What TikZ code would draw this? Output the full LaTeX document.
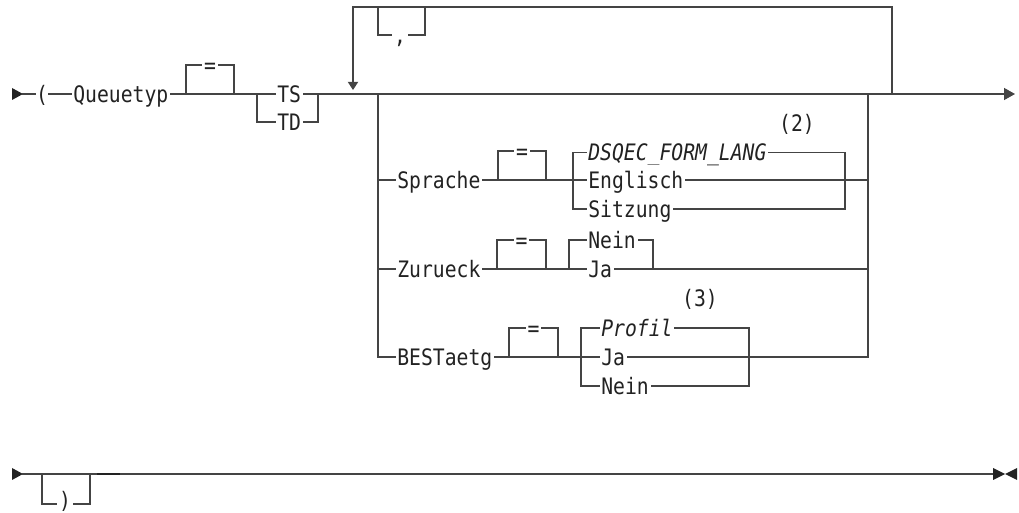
\documentclass[tikz,border=0pt]{standalone}
\usepackage{fontspec}
\newfontfamily\rrfont[FakeStretch=0.87]{DejaVu Sans Mono}
\usetikzlibrary{arrows.meta, positioning}
\definecolor{cline}{HTML}{444444}
\definecolor{ctext}{HTML}{222222}
\tikzset{
  every picture/.style={line width=0.7pt},
  rail/.style={draw=cline, line cap=rect},
  kw/.style={font=\rrfont\fontsize{12.9}{15}\selectfont, text=ctext, fill=white, inner xsep=1pt, inner ysep=0pt, text height=13.4pt, text depth=4pt},
  kwl/.style={kw, anchor=west},
  tip/.style={fill=ctext},
  down/.style={rail, -{Triangle[length=4.6pt, width=5.8pt]}},
}

\begin{document}
\begin{tikzpicture}[x=0.02cm, y=-0.02cm]
  \useasboundingbox (0,0) rectangle (1019,513);
  % first line
  \fill[tip] (12,88) -- (23,94) -- (12,100) -- cycle;
  \node[kw, inner xsep=0pt] (lp) at (42,94) {(};
  \node[kwl] (qt) at (71,94) {Queuetyp};
  \node[kwl] (ts) at (275,94) {TS};
  \node[kwl] (td) at (275,122) {TD};
  \draw[rail] (23,94) -- (lp) -- (qt) -- (ts);
  \draw[rail] (257,94) |- (td.west);
  \draw[rail] (td.east) -| (318,94);
  \draw[rail, -{Triangle[length=6.2pt, width=6.8pt]}] (ts) -- (1015,94);
  % optional =
  \foreach \l/\r/\y [count=\k] in {186/234/94, 498/546/180, 497/546/269, 509/558/357} {
    \draw[rail] (\l,\y) |- (\r,\y-29) -- (\r,\y);
    \node[kw] (eq\k) at ({(\l+\r)/2},\y-29) {=};
  }
  % repeat with ,
  \draw[down] (892,94) |- (353,7) -- (353,90);
  \draw[rail] (378,7) |- (425,35) -- (425,7);
  \node[kw] (cm) at (400,35) {,};
  % option group
  \draw[rail] (868,94) -- (868,357);
  \node[kwl] (spr) at (395,180) {Sprache};
  \node[kwl] (dsq) at (586,152.6) {\itshape DSQEC\_FORM\_LANG};
  \node[kwl] (eng) at (586,180) {Englisch};
  \node[kwl] (sitz) at (586,209) {Sitzung};
  \node[kw] (n2) at (797,123) {(2)};
  \draw[rail] (378,180) -- (spr) -- (eng) -- (868,180);
  \draw[rail] (573,180) |- (dsq.west);
  \draw[rail] (573,180) |- (sitz.west);
  \draw[rail] (dsq.east) -| (845,180) |- (sitz.east);
  \node[kwl] (zur) at (395,269) {Zurueck};
  \node[kwl] (zn) at (586,240) {Nein};
  \node[kwl] (zj) at (586,269) {Ja};
  \draw[rail] (378,269) -- (zur) -- (zj) -- (868,269);
  \draw[rail] (569,269) |- (zn.west);
  \draw[rail] (zn.east) -| (653,269);
  \node[kwl] (bst) at (395,357) {BESTaetg};
  \node[kwl] (bp) at (599,328) {\itshape Profil};
  \node[kwl] (bj) at (599,357) {Ja};
  \node[kwl] (bn) at (599,386) {Nein};
  \node[kw] (n3) at (700,298) {(3)};
  \draw[rail] (378,94) |- (bst.west);
  \draw[rail] (bst) -- (bj) -- (868,357);
  \draw[rail] (581,357) |- (bp.west);
  \draw[rail] (581,357) |- (bn.west);
  \draw[rail] (bp.east) -| (749,357) |- (bn.east);
  % second line
  \fill[tip] (12,468) -- (23,474) -- (12,480) -- cycle;
  \draw[rail] (23,474) -- (994,474);
  \draw[rail] (42,474) |- (90,504) -- (90,474);
  \node[kw] (rp) at (65,500.5) {)};
  \draw[ctext, line width=1.4pt] (97,474) -- (120,474);
  \fill[tip] (993,468) -- (1005,474) -- (993,480) -- cycle;
  \fill[tip] (1017,468) -- (1005,474) -- (1017,480) -- cycle;
\end{tikzpicture}
\end{document}
